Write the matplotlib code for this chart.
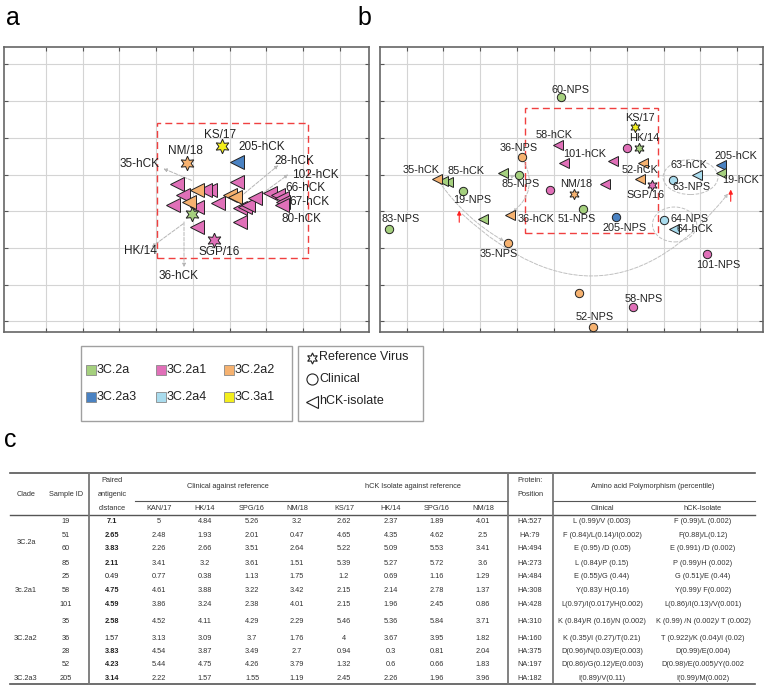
import matplotlib.pyplot as plt
from matplotlib.patches import Rectangle, Ellipse
from matplotlib.lines import Line2D

plt.rcParams["font.family"] = ["Liberation Sans", "DejaVu Sans"]

# --------------------------------------------------
# Colours per clade
# --------------------------------------------------

clade_colors = {
    "3C.2a": "#a5d07e",
    "3C.2a1": "#e070b8",
    "3C.2a2": "#f6b270",
    "3C.2a3": "#4a82c2",
    "3C.2a4": "#a9dcee",
    "3C.3a1": "#f3ee1c",
}
legend_clades = ["3C.2a", "3C.2a1", "3C.2a2", "3C.2a3", "3C.2a4", "3C.3a1"]

# --------------------------------------------------
# Panel a data (antigenic map units, one grid square = 1)
# --------------------------------------------------

a_ref_names = ["KS/17", "NM/18", "SGP/16", "HK/14"]
a_ref_x = [5.79, 4.83, 5.58, 4.97]
a_ref_y = [5.78, 5.31, 3.21, 3.92]
a_ref_clade = ["3C.3a1", "3C.2a2", "3C.2a1", "3C.2a"]

a_hck_x = [4.56, 4.74, 4.47, 5.47, 5.33, 5.11, 5.11, 5.69, 6.20, 6.29, 6.42,
           6.50, 6.69, 6.29, 7.10, 7.32, 7.42, 7.46, 7.42,
           5.11, 4.90, 6.01, 6.15, 6.20]
a_hck_y = [4.75, 4.43, 4.16, 4.57, 4.57, 4.11, 3.57, 4.22, 4.80, 4.08, 4.11,
           4.16, 4.35, 3.71, 4.50, 4.43, 4.35, 4.24, 4.16,
           4.57, 4.25, 4.43, 4.38, 5.34]
a_hck_clade = ["3C.2a1"] * 19 + ["3C.2a2"] * 4 + ["3C.2a3"]

a_label_text = ["KS/17", "NM/18", "SGP/16", "HK/14", "205-hCK", "35-hCK",
                "28-hCK", "102-hCK", "66-hCK", "67-hCK", "80-hCK", "36-hCK"]
a_label_x = [5.74, 4.79, 5.71, 3.56, 6.89, 3.56, 7.78, 8.33, 8.08, 8.19, 7.97, 4.62]
a_label_y = [6.07, 5.63, 2.88, 2.91, 5.74, 5.28, 5.36, 5.00, 4.62, 4.24, 3.78, 2.25]

# leader lines: start (near point) -> end (near label)
a_lead_from = [(4.74, 3.66), (4.97, 4.84), (6.29, 4.39), (6.65, 4.30), (4.76, 3.71)]
a_lead_to = [(3.88, 3.03), (4.20, 5.16), (7.33, 5.25), (7.60, 5.00), (4.76, 2.48)]

a_box = (4.02, 2.74, 8.14, 6.40)

# --------------------------------------------------
# Panel b data
# --------------------------------------------------

b_ref_x = [7.22, 7.33, 7.69, 5.57]
b_ref_y = [6.28, 5.73, 4.71, 4.48]
b_ref_clade = ["3C.3a1", "3C.2a", "3C.2a1", "3C.2a2"]

b_cli_x = [5.20, 6.99, 4.13, 4.90, 4.06, 2.53, 0.52, 3.75, 5.79, 6.69, 8.27,
           8.01, 9.19, 5.70, 7.18, 6.08]
b_cli_y = [7.10, 5.73, 5.48, 4.59, 5.00, 4.54, 3.53, 3.13, 4.07, 3.83, 4.86,
           3.75, 2.84, 1.78, 1.39, 0.86]
b_cli_clade = ["3C.2a", "3C.2a1", "3C.2a2", "3C.2a1", "3C.2a", "3C.2a", "3C.2a",
               "3C.2a2", "3C.2a", "3C.2a3", "3C.2a4", "3C.2a4", "3C.2a1",
               "3C.2a2", "3C.2a1", "3C.2a2"]

b_hck_x = [5.11, 5.29, 6.63, 7.45, 7.36, 6.40, 3.63, 2.12, 2.00, 1.82, 3.09,
           3.80, 8.90, 9.56, 9.56, 8.29]
b_hck_y = [5.80, 5.31, 5.37, 5.32, 4.89, 4.75, 5.04, 4.80, 4.82, 4.89, 3.80,
           3.91, 5.00, 5.25, 5.04, 3.53]
b_hck_clade = ["3C.2a1", "3C.2a1", "3C.2a1", "3C.2a2", "3C.2a2", "3C.2a1",
               "3C.2a", "3C.2a", "3C.2a", "3C.2a2", "3C.2a", "3C.2a2",
               "3C.2a4", "3C.2a3", "3C.2a", "3C.2a4"]

b_label_text = ["60-NPS", "KS/17", "HK/14", "58-hCK", "36-NPS", "101-hCK",
                "52-hCK", "SGP/16", "NM/18", "85-NPS", "85-hCK", "35-hCK",
                "19-NPS", "83-NPS", "36-hCK", "35-NPS", "51-NPS", "205-NPS",
                "63-NPS", "63-hCK", "205-hCK", "19-hCK", "64-NPS", "64-hCK",
                "101-NPS", "58-NPS", "52-NPS"]
b_label_x = [5.45, 7.36, 7.48, 5.01, 4.04, 5.86, 7.36, 7.51, 5.61, 4.10, 2.61,
             1.39, 2.79, 0.82, 4.51, 3.51, 5.63, 6.95, 8.75, 8.69, 9.97, 10.11,
             8.72, 8.86, 9.49, 7.45, 6.13]
b_label_y = [7.31, 6.55, 6.00, 6.07, 5.71, 5.55, 5.13, 4.43, 4.75, 4.75, 5.09,
             5.11, 4.30, 3.78, 3.78, 2.84, 3.80, 3.55, 4.66, 5.27, 5.50, 4.84,
             3.78, 3.51, 2.53, 1.62, 1.12]

# dashed links between hCK isolate and clinical sample: (from, to, rad)
b_links = [
    ((1.82, 4.89), (3.75, 3.13), 0.12),
    ((2.43, 4.00), (9.83, 4.57), 0.55),
    ((4.13, 5.48), (3.80, 3.91), -0.45),
    ((3.63, 5.04), (4.06, 5.00), 0.3),
]
b_loops = [(8.27, 4.86, 8.90, 5.00), (8.01, 3.75, 8.29, 3.53)]
b_red_arrows = [(2.43, 4.00), (9.83, 4.57)]

b_box = (4.22, 3.42, 7.84, 6.81)

# --------------------------------------------------
# Table data (panel c)
# --------------------------------------------------

sample_ids = ["19", "51", "60", "85", "25", "58", "101", "35", "36", "28", "52", "205"]
paired = ["7.1", "2.65", "3.83", "2.11", "0.49", "4.75", "4.59", "2.58", "1.57",
          "3.83", "4.23", "3.14"]
paired_bold = [True, True, True, True, False, True, True, True, False, True, True, True]
clinical_vs_ref = [
    ["5", "4.84", "5.26", "3.2"],
    ["2.48", "1.93", "2.01", "0.47"],
    ["2.26", "2.66", "3.51", "2.64"],
    ["3.41", "3.2", "3.61", "1.51"],
    ["0.77", "0.38", "1.13", "1.75"],
    ["4.61", "3.88", "3.22", "3.42"],
    ["3.86", "3.24", "2.38", "4.01"],
    ["4.52", "4.11", "4.29", "2.29"],
    ["3.13", "3.09", "3.7", "1.76"],
    ["4.54", "3.87", "3.49", "2.7"],
    ["5.44", "4.75", "4.26", "3.79"],
    ["2.22", "1.57", "1.55", "1.19"],
]
hck_vs_ref = [
    ["2.62", "2.37", "1.89", "4.01"],
    ["4.65", "4.35", "4.62", "2.5"],
    ["5.22", "5.09", "5.53", "3.41"],
    ["5.39", "5.27", "5.72", "3.6"],
    ["1.2", "0.69", "1.16", "1.29"],
    ["2.15", "2.14", "2.78", "1.37"],
    ["2.15", "1.96", "2.45", "0.86"],
    ["5.46", "5.36", "5.84", "3.71"],
    ["4", "3.67", "3.95", "1.82"],
    ["0.94", "0.3", "0.81", "2.04"],
    ["1.32", "0.6", "0.66", "1.83"],
    ["2.45", "2.26", "1.96", "3.96"],
]
positions = ["HA:527", "HA:79", "HA:494", "HA:273", "HA:484", "HA:308", "HA:428",
             "HA:310", "HA:160", "HA:375", "NA:197", "HA:182"]
aa_clinical = [
    "L (0.99)/V (0.003)", "F (0.84)/L(0.14)/I(0.002)", "E (0.95) /D (0.05)",
    "L (0.84)/P (0.15)", "E (0.55)/G (0.44)", "Y(0.83)/ H(0.16)",
    "L(0.97)/I(0.017)/H(0.002)", "K (0.84)/R (0.16)/N (0.002)",
    "K (0.35)/I (0.27)/T(0.21)", "D(0.96)/N(0.03)/E(0.003)",
    "D(0.86)/G(0.12)/E(0.003)", "I(0.89)/V(0.11)",
]
aa_hck = [
    "F (0.99)/L (0.002)", "F(0.88)/L(0.12)", "E (0.991) /D (0.002)",
    "P (0.99)/H (0.002)", "G (0.51)/E (0.44)", "Y(0.99)/ F(0.002)",
    "L(0.86)/I(0.13)/V(0.001)", "K (0.99) /N (0.002)/ T (0.002)",
    "T (0.922)/K (0.04)/I (0.02)", "D(0.99)/E(0.004)",
    "D(0.98)/E(0.005)/Y(0.002", "I(0.99)/M(0.002)",
]
clade_names = ["3C.2a", "3c.2a1", "3C.2a2", "3C.2a3"]
clade_rows = [1.5, 5, 8, 11]
ref_cols_clinical = ["KAN/17", "HK/14", "SPG/16", "NM/18"]
ref_cols_hck = ["KS/17", "HK/14", "SPG/16", "NM/18"]


# --------------------------------------------------
# Helpers
# --------------------------------------------------

def style_map_axes(ax, xlim, ylim, nx, ny):
    ax.set_xlim(*xlim)
    ax.set_ylim(*ylim)
    ax.set_xticks(range(1, nx + 1))
    ax.set_yticks(range(1, ny + 1))
    ax.set_xticklabels([])
    ax.set_yticklabels([])
    ax.tick_params(direction="in", length=3, width=0.8, color="#555555",
                   top=True, right=True)
    ax.grid(True, color="#d4d4d4", lw=0.8)
    ax.set_axisbelow(True)
    for sp in ax.spines.values():
        sp.set_color("#666666")
        sp.set_linewidth(1.2)


def red_box(ax, box):
    x0, y0, x1, y1 = box
    ax.add_patch(Rectangle((x0, y0), x1 - x0, y1 - y0, fill=False,
                           ec="#f04040", ls=(0, (5, 3)), lw=1.0, zorder=2))


def draw_points(ax, xs, ys, clades, marker, ms, mew=0.7, z=3):
    for x, y, c in zip(xs, ys, clades):
        ax.plot(x, y, marker=marker, ms=ms, mfc=clade_colors[c], mec="#222222",
                mew=mew, ls="none", zorder=z)


HEX = (6, 1, 0)

fig = plt.figure(figsize=(7.64, 6.86), dpi=100)

# --------------------------------------------------
# Panel a
# --------------------------------------------------

ax_a = fig.add_axes([4 / 764, 1 - 332.5 / 686, 365 / 764, 285.5 / 686])
style_map_axes(ax_a, (-0.144, 9.80), (0.70, 8.47), 9, 8)
red_box(ax_a, a_box)

for (x0, y0), (x1, y1) in zip(a_lead_from, a_lead_to):
    ax_a.annotate("", xy=(x1, y1), xytext=(x0, y0),
                  arrowprops=dict(arrowstyle="-|>", color="#b5b5b5", lw=0.7,
                                  ls="--", mutation_scale=5, shrinkA=0, shrinkB=0),
                  zorder=2)

draw_points(ax_a, a_hck_x, a_hck_y, a_hck_clade, "<", 9.5)
draw_points(ax_a, a_ref_x, a_ref_y, a_ref_clade, HEX, 10.5, z=4)

for t, x, y in zip(a_label_text, a_label_x, a_label_y):
    ax_a.text(x, y, t, fontsize=8.5, ha="center", va="center", color="#222222",
              zorder=5)

fig.text(13 / 764, 1 - 18 / 686, "a", fontsize=18, ha="center", va="center")

# --------------------------------------------------
# Panel b
# --------------------------------------------------

ax_b = fig.add_axes([380 / 764, 1 - 332.5 / 686, 383 / 764, 285.5 / 686])
style_map_axes(ax_b, (0.27, 10.71), (0.70, 8.47), 10, 8)
red_box(ax_b, b_box)

for (x0, y0), (x1, y1), rad in b_links:
    ax_b.annotate("", xy=(x1, y1), xytext=(x0, y0),
                  arrowprops=dict(arrowstyle="-|>", color="#c0c0c0", lw=0.7,
                                  ls="--", mutation_scale=5, shrinkA=3, shrinkB=3,
                                  connectionstyle=f"arc3,rad={rad}"),
                  zorder=2)

for x0, y0, x1, y1 in b_loops:
    cx, cy = (x0 + x1) / 2, (y0 + y1) / 2
    w = ((x1 - x0) ** 2 + (y1 - y0) ** 2) ** 0.5 + 0.85
    ax_b.add_patch(Ellipse((cx + 0.15, cy), w, 0.95, fill=False, ec="#c0c0c0",
                           lw=0.7, ls="--", zorder=2))

for x, y in b_red_arrows:
    ax_b.annotate("", xy=(x, y + 0.02), xytext=(x, y - 0.3),
                  arrowprops=dict(arrowstyle="-|>", color="#ff2020", lw=0.8,
                                  mutation_scale=6, shrinkA=0, shrinkB=0),
                  zorder=4)

draw_points(ax_b, b_cli_x, b_cli_y, b_cli_clade, "o", 6.0)
draw_points(ax_b, b_hck_x, b_hck_y, b_hck_clade, "<", 7.0)
draw_points(ax_b, b_ref_x, b_ref_y, b_ref_clade, HEX, 7.5, z=4)

for t, x, y in zip(b_label_text, b_label_x, b_label_y):
    ax_b.text(x, y, t, fontsize=7.8, ha="center", va="center", color="#222222",
              zorder=5)

fig.text(364 / 764, 1 - 18 / 686, "b", fontsize=18, ha="center", va="center")

# --------------------------------------------------
# Overlay in pixel coordinates: legends and table
# --------------------------------------------------

ov = fig.add_axes([0, 0, 1, 1], zorder=-1)
ov.set_xlim(0, 764)
ov.set_ylim(686, 0)
ov.axis("off")

ov.add_patch(Rectangle((81, 346), 211, 75, fill=False, ec="#a0a0a0", lw=1))
ov.add_patch(Rectangle((298, 346), 125, 75, fill=False, ec="#a0a0a0", lw=1))

leg_x = [90.5, 161, 228.5]
leg_y = [370, 397]
for i, c in enumerate(legend_clades):
    x = leg_x[i % 3]
    y = leg_y[i // 3]
    ov.plot(x, y, marker="s", ms=6.5, mfc=clade_colors[c], mec="#888888",
            mew=0.6, ls="none")
    ov.text(x + 6, y, c, fontsize=9, ha="left", va="center", color="#222222")

shape_labels = ["Reference Virus", "Clinical", "hCK-isolate"]
shape_markers = [HEX, "o", "<"]
shape_sizes = [8, 8, 8]
shape_y = [357.5, 379, 401.5]
for lab, m, s, y in zip(shape_labels, shape_markers, shape_sizes, shape_y):
    ov.plot(311.5, y, marker=m, ms=s, mfc="white", mec="#222222", mew=0.8,
            ls="none")
    ov.text(319, y, lab, fontsize=9, ha="left", va="center", color="#222222")

fig.text(10 / 764, 1 - 440 / 686, "c", fontsize=18, ha="center", va="center")

# table lines
line_c = "#555555"
ov.plot([10, 755], [473, 473], color=line_c, lw=1.2)
ov.plot([135, 507.5], [501, 501], color=line_c, lw=0.8)
ov.plot([553, 755], [501, 501], color=line_c, lw=0.8)
ov.plot([10, 755], [515, 515], color=line_c, lw=1.0)
ov.plot([10, 755], [684, 684], color=line_c, lw=1.2)
for vx in [89.3, 507.5, 553]:
    ov.plot([vx, vx], [473, 684], color="#777777", lw=1.3)

tf = 5.3
tc = "#333333"
col_x = [159, 205, 252, 297, 344, 391, 437, 483]
row_y = [521.7, 535.3, 549, 563.3, 576.7, 590.7, 604, 621.7, 638.3, 651.5, 665,
         678.3]

ov.text(26, 494, "Clade", fontsize=tf, ha="center", va="center", color=tc)
ov.text(66, 494, "Sample ID", fontsize=tf, ha="center", va="center", color=tc)
for t, y in zip(["Paired", "antigenic", "distance"], [481, 494.7, 508.3]):
    ov.text(112, y, t, fontsize=tf, ha="center", va="center", color=tc)
ov.text(228, 487, "Clinical against reference", fontsize=tf, ha="center",
        va="center", color=tc)
ov.text(413, 487, "hCK Isolate against reference", fontsize=tf, ha="center",
        va="center", color=tc)
for t, x in zip(ref_cols_clinical + ref_cols_hck, col_x):
    ov.text(x, 508.3, t, fontsize=tf, ha="center", va="center", color=tc)
ov.text(530, 481, "Protein:", fontsize=tf, ha="center", va="center", color=tc)
ov.text(530, 494.3, "Position", fontsize=tf, ha="center", va="center", color=tc)
ov.text(653, 487, "Amino acid Polymorphism (percentile)", fontsize=tf,
        ha="center", va="center", color=tc)
ov.text(602, 508.3, "Clinical", fontsize=tf, ha="center", va="center", color=tc)
ov.text(703, 508.3, "hCK-Isolate", fontsize=tf, ha="center", va="center", color=tc)

for name, r in zip(clade_names, clade_rows):
    if r == int(r):
        y = row_y[int(r)]
    else:
        y = (row_y[int(r)] + row_y[int(r) + 1]) / 2
    ov.text(26, y, name, fontsize=tf, ha="center", va="center", color=tc)

for i, y in enumerate(row_y):
    ov.text(66, y, sample_ids[i], fontsize=tf, ha="center", va="center", color=tc)
    ov.text(112, y, paired[i], fontsize=tf, ha="center", va="center",
            color="#222222", fontweight="bold" if paired_bold[i] else "normal")
    for x, v in zip(col_x, clinical_vs_ref[i] + hck_vs_ref[i]):
        ov.text(x, y, v, fontsize=tf, ha="center", va="center", color=tc)
    ov.text(530, y, positions[i], fontsize=tf, ha="center", va="center", color=tc)
    ov.text(602, y, aa_clinical[i], fontsize=tf, ha="center", va="center", color=tc)
    ov.text(703, y, aa_hck[i], fontsize=tf, ha="center", va="center", color=tc)

fig.savefig("out.png", dpi=100)
